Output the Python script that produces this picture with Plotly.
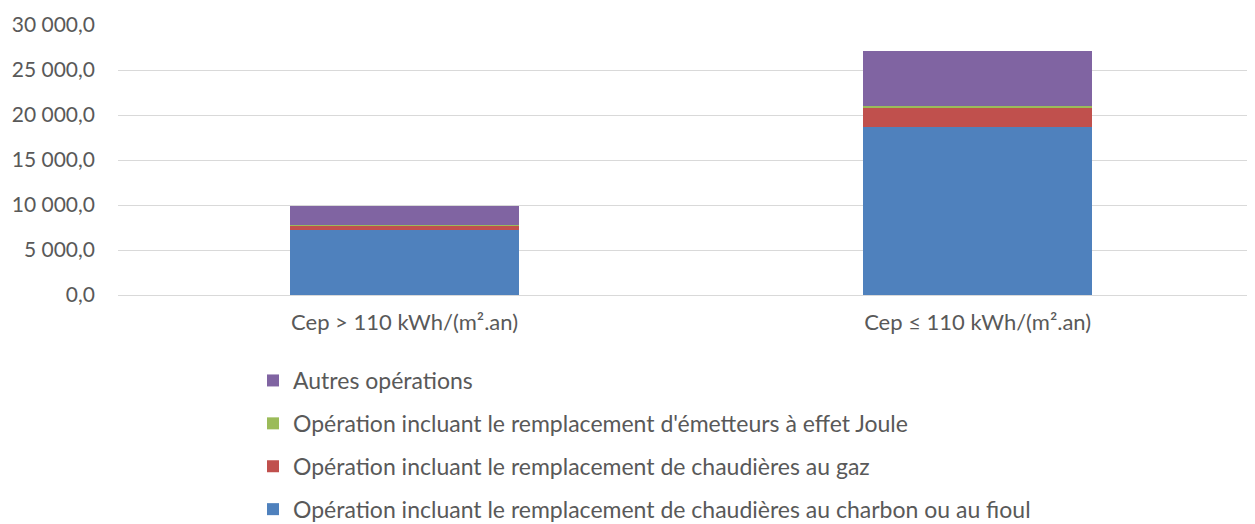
import plotly.graph_objects as go

categories = ["Cep > 110 kWh/(m².an)", "Cep ≤ 110 kWh/(m².an)"]

series_names = [
    "Opération incluant le remplacement de chaudières au charbon ou au fioul",
    "Opération incluant le remplacement de chaudières au gaz",
    "Opération incluant le remplacement d'émetteurs à effet Joule",
    "Autres opérations",
]
charbon_fioul = [7250, 18700]
gaz = [480, 2100]
joule = [40, 150]
autres = [2080, 6140]

series_values = [charbon_fioul, gaz, joule, autres]
colors = ["#4F81BD", "#C0504D", "#9BBB59", "#8064A2"]

FONT = "Lato"
TXT = "#595959"
W, H = 1247, 516  # page adds an 8px body margin

fig = go.Figure()
for i, (name, vals, col) in enumerate(zip(series_names, series_values, colors)):
    fig.add_trace(go.Bar(
        x=categories, y=vals, name=name,
        marker=dict(color=col, line=dict(width=0)),
        width=0.4,
        legendgroup=f"g{i}",
        legendrank=10 - i,
    ))

fig.update_layout(
    barmode="stack",
    width=W, height=H,
    margin=dict(l=110, r=0, t=17, b=229, autoexpand=False),
    paper_bgcolor="white",
    plot_bgcolor="white",
    separators=", ",
    font=dict(family=FONT, size=22, color=TXT),
    legend=dict(
        xref="container", yref="container",
        x=245 / W, y=1 - 351 / H,
        xanchor="left", yanchor="top",
        traceorder="grouped",
        tracegroupgap=10,
        font=dict(family=FONT, size=23, color=TXT),
        itemwidth=30,
    ),
)
fig.update_xaxes(
    range=[-0.5, 1.484],
    showgrid=False, showline=False, zeroline=False,
    ticks="", ticklabelstandoff=12, tickangle=0,
    tickfont=dict(size=22),
)
fig.update_yaxes(
    range=[0, 30000], dtick=5000, tickformat=",.1f",
    showgrid=True, gridcolor="#D9D9D9", gridwidth=1,
    zeroline=True, zerolinecolor="#D9D9D9", zerolinewidth=1,
    showline=False, ticks="", ticklabelstandoff=22,
    tickfont=dict(size=21),
)

fig.write_html("out.html")
